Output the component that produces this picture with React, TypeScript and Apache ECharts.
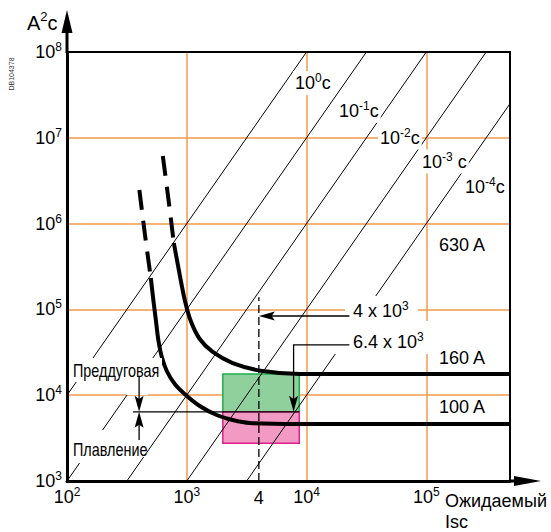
import React, { useEffect, useRef } from "react";
import * as echarts from "echarts";

// ---------------- data ----------------
const timeExponents = [0, -1, -2, -3, -4]; // lines of constant time t = 10^e s  (I²t = A²s)
const xTickValues = [1e2, 1e3, 1e4, 1e5];
const yTickValues = [1e3, 1e4, 1e5, 1e6, 1e7, 1e8];
const xMin = 1e2;
const xMax = 5e5;
const yMin = 1e3;
const yMax = 1e8;

// 160 A fuse curve (prospective current A, I²t A²s)
const fuse160DashedI = [631, 701, 780];
const fuse160DashedA = [6140000, 1990000, 594000];
const fuse160I = [780, 874, 962, 1080, 1283, 1647, 2417, 4300, 8745, 500000];
const fuse160A = [594000, 252000, 128700, 73200, 45200, 31900, 23700, 19100, 17660, 17660];

// 100 A fuse curve
const fuse100DashedI = [402, 447, 501];
const fuse100DashedA = [2464000, 757000, 232000];
const fuse100I = [501, 526, 552, 579, 619, 681, 794, 981, 1283, 1778, 2417, 3350, 8745, 500000];
const fuse100A = [232000, 128700, 75250, 44000, 27870, 19140, 13500, 10050, 7483, 5878, 5140, 4743, 4617, 4617];

const currentLabels = ["630 A", "160 A", "100 A"];
const prospectiveIsc = 4000; // 4 x 10^3
const letThrough = 6400; // 6.4 x 10^3
const zoneI = [2000, 8700];
const preArcZone = [6400, 17660];
const meltZone = [2750, 6400];

// ---------------- styles / layout ----------------
const FONT = "'Liberation Sans', Arial, Helvetica, sans-serif";
const ORANGE = "#f39a4b";

const supRich = (size: number, sup: number, lh: number, family = FONT) => ({
  b: { fontSize: size, fontFamily: family, lineHeight: lh, fill: "#000", color: "#000", verticalAlign: "middle" },
  s: { fontSize: sup, fontFamily: family, lineHeight: sup, fill: "#000", color: "#000", verticalAlign: "top" },
});

const pairs = (xs: number[], ys: number[]) => xs.map((x, i) => [x, ys[i]]);

const powLabel = (v: number) => {
  const e = Math.log10(v);
  if (Math.abs(e - Math.round(e)) > 1e-6) return "";
  return `{b|10}{s|${Math.round(e)}}`;
};

// annotation geometry in data coordinates
const arrowPaths: number[][][] = [
  [[22800, 83800], [prospectiveIsc, 83800]],
  [[22800, 38500], [7800, 38500], [7800, letThrough]],
  [[400, 16300], [400, letThrough]],
  [[400, 3000], [400, letThrough]],
];
const refLine = [[356, letThrough], [zoneI[1], letThrough]];

const timeLabelPos = [
  [293, 83],
  [337, 111],
  [378, 137.5],
  [420, 161.5],
  [463, 187],
];
const currentLabelPos = [
  [439, 244.5],
  [439, 358],
  [439, 407],
];

export default function App() {
  const ref = useRef<HTMLDivElement>(null);

  useEffect(() => {
    const chart = echarts.init(ref.current!, undefined, { renderer: "svg" });

    const diagSeries = timeExponents.map((e) => {
      const t = Math.pow(10, e);
      const i0 = Math.max(xMin, Math.sqrt(yMin / t));
      const i1 = Math.min(xMax, Math.sqrt(yMax / t));
      return {
        type: "line",
        name: `10^${e} c`,
        data: [
          [i0, i0 * i0 * t],
          [i1, i1 * i1 * t],
        ],
        symbol: "none",
        silent: true,
        z: 3,
        lineStyle: { color: "#000", width: 1 },
      };
    });

    const curve = (name: string, data: number[][], dashed: boolean) => ({
      type: "line",
      name,
      data,
      symbol: "none",
      silent: true,
      smooth: 0.3,
      z: 5,
      lineStyle: { color: "#000", width: 4, type: dashed ? [20, 11] : "solid", cap: "butt" },
    });

    const option: any = {
      animation: false,
      grid: { left: 67, right: 41, top: 52, bottom: 51, show: false },
      xAxis: {
        type: "log",
        logBase: 10,
        min: xMin,
        max: xMax,
        axisLine: { show: true, onZero: false, lineStyle: { color: "#000", width: 3 } },
        axisTick: { show: false },
        splitLine: { show: true, lineStyle: { color: ORANGE, width: 1.5 } },
        axisLabel: {
          margin: 5,
          formatter: (v: number) => (xTickValues.some((t) => Math.abs(t - v) / t < 1e-6) ? powLabel(v) : ""),
          rich: supRich(18, 12, 22),
        },
      },
      yAxis: {
        type: "log",
        logBase: 10,
        min: yMin,
        max: yMax,
        axisLine: { show: true, onZero: false, lineStyle: { color: "#000", width: 3 } },
        axisTick: { show: false },
        splitLine: { show: true, lineStyle: { color: ORANGE, width: 1.5 } },
        axisLabel: {
          margin: 5,
          formatter: (v: number) => (yTickValues.some((t) => Math.abs(t - v) / t < 1e-6) ? powLabel(v) : ""),
          rich: supRich(18, 12, 22),
        },
      },
      series: [
        {
          type: "line",
          name: "zones",
          data: [[zoneI[0], meltZone[0]]],
          symbol: "none",
          silent: true,
          z: 1,
          markArea: {
            silent: true,
            label: { show: false },
            data: [
              [
                { coord: [zoneI[0], preArcZone[0]], itemStyle: { color: "#8fd09c", borderColor: "#22ad4e", borderWidth: 1.5 } },
                { coord: [zoneI[1], preArcZone[1]] },
              ],
              [
                { coord: [zoneI[0], meltZone[0]], itemStyle: { color: "#f29ac4", borderColor: "#e0208c", borderWidth: 1.5 } },
                { coord: [zoneI[1], meltZone[1]] },
              ],
            ],
          },
        },
        ...diagSeries,
        {
          type: "line",
          name: "Isc",
          data: [
            [prospectiveIsc, yMin],
            [prospectiveIsc, 139000],
          ],
          symbol: "none",
          silent: true,
          z: 4,
          lineStyle: { color: "#000", width: 1.3, type: [8, 4] },
        },
        curve("160 A (dashed)", pairs(fuse160DashedI, fuse160DashedA), true),
        curve("160 A", pairs(fuse160I, fuse160A), false),
        curve("100 A (dashed)", pairs(fuse100DashedI, fuse100DashedA), true),
        curve("100 A", pairs(fuse100I, fuse100A), false),
      ],
    };

    chart.setOption(option);

    const P = (p: number[]) => chart.convertToPixel({ gridIndex: 0 }, p) as number[];

    const els: any[] = [];

    const whiteRect = (x: number, y: number, w: number, h: number) =>
      els.push({ type: "rect", shape: { x, y, width: w, height: h }, style: { fill: "#fff" }, z: 8, silent: true });

    const text = (t: string, x: number, y: number, style: any, extra: any = {}) =>
      els.push({
        type: "text",
        x,
        y,
        z: 10,
        silent: true,
        ...extra,
        style: {
          text: t,
          fill: "#000",
          font: `17px ${FONT}`,
          align: "left",
          verticalAlign: "middle",
          textAlign: "left",
          textVerticalAlign: "middle",
          ...style,
        },
      });

    const arrow = (pts: number[][], head: boolean) => {
      const n = pts.length;
      const line = pts.slice();
      if (head) {
        const [x1, y1] = pts[n - 2];
        const [x2, y2] = pts[n - 1];
        const len = Math.hypot(x2 - x1, y2 - y1);
        const ux = (x2 - x1) / len;
        const uy = (y2 - y1) / len;
        const L = 16;
        const W = 4.5;
        const bx = x2 - ux * L;
        const by = y2 - uy * L;
        line[n - 1] = [x2 - ux * L * 0.6, y2 - uy * L * 0.6];
        els.push({
          type: "polygon",
          z: 20,
          silent: true,
          shape: {
            points: [
              [x2, y2],
              [bx - uy * W, by + ux * W],
              [x2 - ux * L * 0.8, y2 - uy * L * 0.8],
              [bx + uy * W, by - ux * W],
            ],
          },
          style: { fill: "#000" },
        });
      }
      els.push({ type: "polyline", z: 20, silent: true, shape: { points: line }, style: { stroke: "#000", lineWidth: 1.3, fill: null } });
    };

    // frame top / right
    const tl = P([xMin, yMax]);
    const tr = P([xMax, yMax]);
    const br = P([xMax, yMin]);
    const bl = P([xMin, yMin]);
    els.push({ type: "polyline", z: 15, silent: true, shape: { points: [tl, tr, br] }, style: { stroke: "#000", lineWidth: 2, fill: null } });

    // axis arrows
    els.push({ type: "line", z: 15, silent: true, shape: { x1: tl[0], y1: tl[1] + 1, x2: tl[0], y2: 28 }, style: { stroke: "#000", lineWidth: 3 } });
    els.push({ type: "polygon", z: 15, silent: true, shape: { points: [[tl[0], 10], [tl[0] - 5.5, 33], [tl[0] + 5.5, 33]] }, style: { fill: "#000" } });
    els.push({ type: "line", z: 15, silent: true, shape: { x1: br[0] - 1, y1: br[1], x2: 520, y2: br[1] }, style: { stroke: "#000", lineWidth: 3 } });
    els.push({ type: "polygon", z: 15, silent: true, shape: { points: [[541, bl[1]], [514, bl[1] - 5], [514, bl[1] + 5]] }, style: { fill: "#000" } });

    // white gaps around annotations
    whiteRect(70, 358, 92, 24);
    whiteRect(126, 380, 22, 15);
    whiteRect(71, 441, 74, 16);
    whiteRect(79, 430, 28, 33);
    whiteRect(345, 296, 73, 25);
    whiteRect(333, 321, 97, 33);

    // axis titles
    text("{b|A}{s|2}{b|c}", 27, 22.5, { rich: supRich(20, 13, 26) });
    els.push({
      type: "text",
      x: 11,
      y: 74,
      rotation: Math.PI / 2,
      z: 10,
      silent: true,
      style: { text: "DB104378", fill: "#333", font: `7px ${FONT}`, align: "center", verticalAlign: "middle", textAlign: "center", textVerticalAlign: "middle" },
    });
    text("Ожидаемый\nIsc", 445, 490, { font: `18px ${FONT}`, lineHeight: 21, verticalAlign: "top", textVerticalAlign: "top" });
    const iscPx = P([prospectiveIsc, yMin]);
    text("4", iscPx[0], 498, { font: `18px ${FONT}`, align: "center", textAlign: "center" });

    // time labels
    timeExponents.forEach((e, i) => {
      const [x, y] = timeLabelPos[i];
      const cPart = e === -3 ? " c" : "c";
      text(`{b|10}{s|${e}}{b|${cPart}}`, x, y, { rich: supRich(18, 12, 22), backgroundColor: "#fff", padding: [1, 2, 1, 2] });
    });

    // current labels
    currentLabels.forEach((c, i) => {
      const [x, y] = currentLabelPos[i];
      text(c, x, y, { font: `18px ${FONT}` });
    });

    text("{b|4 x 10}{s|3}", 353, 311, { rich: supRich(18, 12, 22) });
    text("{b|6.4 x 10}{s|3}", 353, 341.5, { rich: supRich(18, 12, 22) });
    text("Преддуговая", 73, 370, { font: `18px ${FONT}` }, { scaleX: 0.8 });
    text("Плавление", 73, 449.5, { font: `18px ${FONT}` }, { scaleX: 0.8 });

    // arrows
    arrowPaths.forEach((p) => arrow(p.map(P), true));
    arrow(refLine.map(P), false);

    chart.setOption({ graphic: { elements: els } });

    return () => chart.dispose();
  }, []);

  return <div ref={ref} style={{ position: "absolute", left: 0, top: 0, width: 551, height: 532 }} />;
}
